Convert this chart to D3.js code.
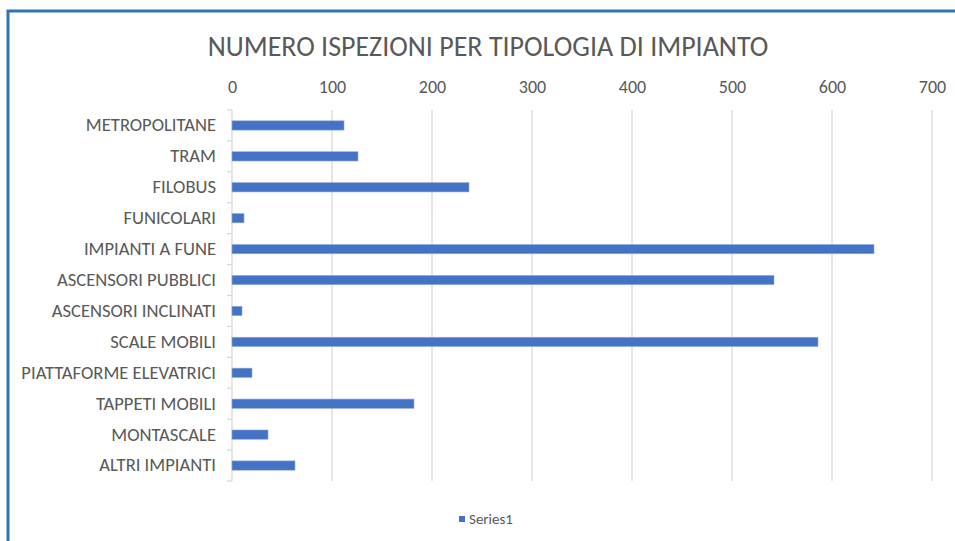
<!DOCTYPE html>
<html>
<head>
<meta charset="utf-8">
<script src="https://cdn.jsdelivr.net/npm/d3@7"></script>
<style>
  body { margin: 0; background: #fff; }
  svg text { font-family: Carlito, "Noto Sans", sans-serif; fill: #595959; }
</style>
</head>
<body>
<div id="chart"></div>
<script>
// categorie e valori
const categories = [
    'METROPOLITANE', 'TRAM', 'FILOBUS', 'FUNICOLARI', 'IMPIANTI A FUNE',
    'ASCENSORI PUBBLICI', 'ASCENSORI INCLINATI', 'SCALE MOBILI',
    'PIATTAFORME ELEVATRICI', 'TAPPETI MOBILI', 'MONTASCALE', 'ALTRI IMPIANTI'
];
const series1 = [112, 126, 237, 12, 642, 542, 10, 586, 20, 182, 36, 63];
const xTicks = [0, 100, 200, 300, 400, 500, 600, 700];
const seriesName = 'Series1';
const title = 'NUMERO ISPEZIONI PER TIPOLOGIA DI IMPIANTO';

const W = 955, H = 541;
const margin = { top: 110, left: 232 };
const plotW = 700;
const plotH = 371;
const barColor = '#4472c4';

const data = categories.map(function (c, i) {
    return { key: c, value: series1[i] };
});

let svg = d3.select('#chart').append('svg')
    .attr('width', W)
    .attr('height', H);

// cornice blu (solo sinistra e sopra)
svg.append('path')
    .attr('d', 'M8,541 V11 H955')
    .attr('fill', 'none')
    .attr('stroke', '#2e75b6')
    .attr('stroke-width', 3);

svg.append('text')
    .attr('x', 488)
    .attr('y', 56)
    .attr('text-anchor', 'middle')
    .style('font-size', '28px')
    .text(title);

let chart = svg.append('g')
    .attr('transform', 'translate(' + margin.left + ',' + margin.top + ')');

const xScale = d3.scaleLinear().domain([0, 700]).range([0, plotW]);
const yScale = d3.scaleBand().domain(categories).range([0, plotH]).paddingInner(0.7).paddingOuter(0.35);

// griglia verticale
chart.selectAll('.grid').data(xTicks.slice(1)).enter()
    .append('line').classed('grid', true)
    .attr('x1', function (d) { return xScale(d); })
    .attr('x2', function (d) { return xScale(d); })
    .attr('y1', 0)
    .attr('y2', plotH)
    .attr('stroke', '#d9d9d9')
    .attr('stroke-width', 1.3);

// asse superiore
let xAxis = d3.axisTop(xScale).tickValues(xTicks).tickSize(0).tickPadding(17);
let gx = chart.append('g').call(xAxis);
gx.select('.domain').remove();
gx.selectAll('text').style('font-size', '18px').attr('fill', '#595959');

// asse delle categorie
let yAxis = d3.axisLeft(yScale).tickSize(0).tickPadding(16);
let gy = chart.append('g').call(yAxis);
gy.select('.domain').remove();
gy.selectAll('text').style('font-size', '18.6px').attr('fill', '#595959');

chart.append('line')
    .attr('x1', 0).attr('x2', 0)
    .attr('y1', 0).attr('y2', plotH)
    .attr('stroke', '#d9d9d9')
    .attr('stroke-width', 1.3);

chart.selectAll('.ytick').data(d3.range(categories.length + 1)).enter()
    .append('line').classed('ytick', true)
    .attr('x1', -5).attr('x2', 0)
    .attr('y1', function (i) { return i * plotH / categories.length; })
    .attr('y2', function (i) { return i * plotH / categories.length; })
    .attr('stroke', '#d9d9d9')
    .attr('stroke-width', 1.3);

// barre
chart.selectAll('.bar').data(data).enter()
    .append('rect').classed('bar', true)
    .attr('x', xScale(0))
    .attr('y', function (d) { return yScale(d.key); })
    .attr('width', function (d) { return xScale(d.value) - xScale(0); })
    .attr('height', yScale.bandwidth())
    .attr('fill', barColor)
    .attr('stroke', '#8faadc')
    .attr('stroke-width', 0.6);

// legenda
let legend = svg.append('g').attr('transform', 'translate(459,516)');
legend.append('rect')
    .attr('width', 6).attr('height', 6)
    .attr('fill', barColor);
legend.append('text')
    .attr('x', 10).attr('y', 8)
    .style('font-size', '15px')
    .text(seriesName);
</script>
</body>
</html>
